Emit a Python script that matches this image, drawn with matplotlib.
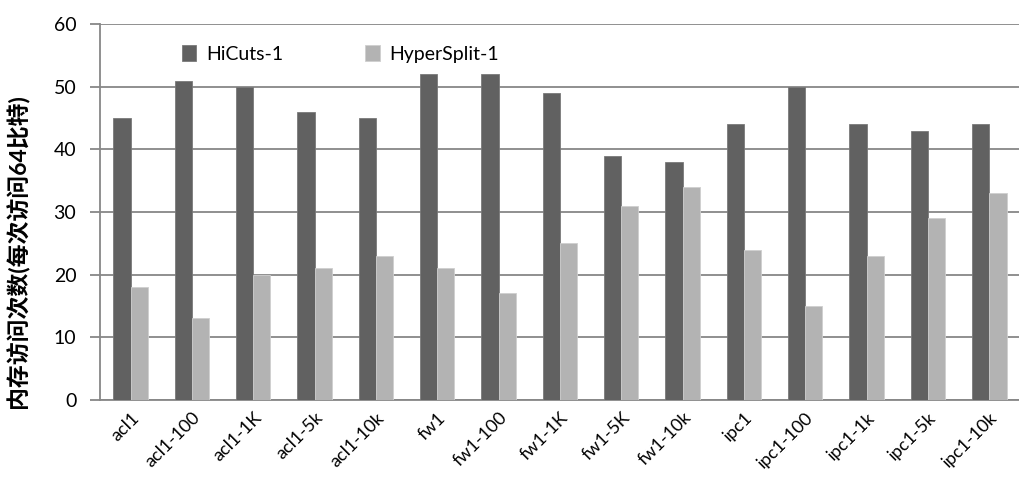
import matplotlib
matplotlib.use("Agg")
import matplotlib.pyplot as plt
import numpy as np

plt.rcParams["font.family"] = ["Lato", "Noto Sans CJK SC", "DejaVu Sans"]

categories = ["acl1", "acl1-100", "acl1-1K", "acl1-5k", "acl1-10k",
              "fw1", "fw1-100", "fw1-1K", "fw1-5K", "fw1-10k",
              "ipc1", "ipc1-100", "ipc1-1k", "ipc1-5k", "ipc1-10k"]
hicuts = [45, 51, 50, 46, 45, 52, 52, 49, 39, 38, 44, 50, 44, 43, 44]
hypersplit = [18, 13, 20, 21, 23, 21, 17, 25, 31, 34, 24, 15, 23, 29, 33]

fig = plt.figure(figsize=(10.2, 4.93), dpi=100)
ax = fig.add_axes([0.098, 0.189, 0.902, 0.762])

x = np.arange(len(categories))
w = 0.28
ax.bar(x - w / 2, hicuts, w, color="#616161", edgecolor="#7a7a7a", linewidth=0.6,
       label="HiCuts-1", zorder=3)
ax.bar(x + w / 2, hypersplit, w, color="#b3b3b3", edgecolor="#cfcfcf", linewidth=0.6,
       label="HyperSplit-1", zorder=3)

ax.set_xlim(-0.5, len(categories) - 0.5)
ax.set_ylim(0, 60)
ax.set_yticks(range(0, 61, 10))
ax.yaxis.grid(True, color="#878787", linewidth=1.3, zorder=0)
ax.tick_params(axis="y", length=7, width=1.3, color="#878787", labelsize=14, pad=10)
ax.tick_params(axis="x", length=0, pad=7)
ax.set_xticks(x)
ax.set_xticklabels(categories, rotation=45, ha="right", rotation_mode="anchor",
                   fontsize=13)

for side in ["top", "right"]:
    ax.spines[side].set_visible(False)
for side in ["left", "bottom"]:
    ax.spines[side].set_color("#878787")
    ax.spines[side].set_linewidth(1.3)

ax.set_ylabel("内存访问次数(每次访问64比特)", fontsize=16.5, fontweight="bold")
ax.yaxis.set_label_coords(-0.077, 0.395)

ax.legend(loc="center left", bbox_to_anchor=(0.07, 0.92), ncol=2, frameon=False,
          fontsize=14, handlelength=0.75, handleheight=0.9, handletextpad=0.5,
          columnspacing=4.2)

fig.savefig("out.png", dpi=100)
